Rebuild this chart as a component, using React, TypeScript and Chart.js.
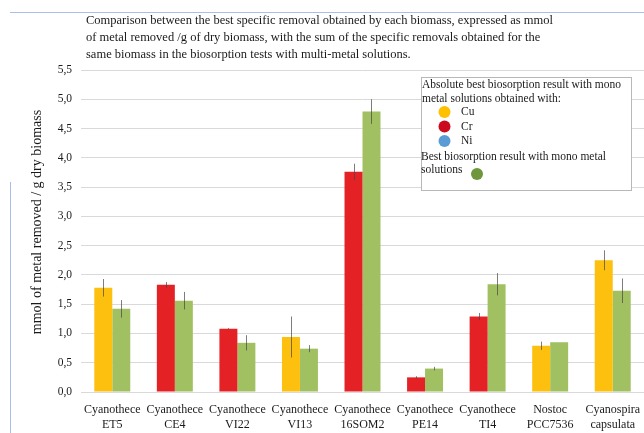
import React, { useEffect, useRef } from "react";
import { Chart, registerables } from "chart.js";

Chart.register(...registerables);

// ---- data ----
const categories: string[][] = [
  ["Cyanothece", "ET5"],
  ["Cyanothece", "CE4"],
  ["Cyanothece", "VI22"],
  ["Cyanothece", "VI13"],
  ["Cyanothece", "16SOM2"],
  ["Cyanothece", "PE14"],
  ["Cyanothece", "TI4"],
  ["Nostoc", "PCC7536"],
  ["Cyanospira", "capsulata"],
];
const bestMetal = ["Cu", "Cr", "Cr", "Cu", "Cr", "Cr", "Cr", "Cu", "Cu"];
const monoBest = [1.78, 1.83, 1.08, 0.94, 3.76, 0.25, 1.29, 0.79, 2.25];
const monoErr = [0.15, 0.05, 0.01, 0.35, 0.14, 0.02, 0.06, 0.07, 0.17];
const multiSum = [1.42, 1.56, 0.84, 0.74, 4.79, 0.4, 1.84, 0.85, 1.73];
const multiErr = [0.15, 0.15, 0.13, 0.06, 0.21, 0.03, 0.19, 0.0, 0.21];

const titleLines = [
  "Comparison between the best specific removal obtained by each biomass, expressed as mmol",
  "of metal removed /g of dry biomass, with the sum of the specific removals obtained for the",
  "same biomass in the biosorption tests with multi-metal solutions.",
];
const legendHeader = [
  "Absolute best biosorption result with mono",
  "metal solutions obtained with:",
];
const legendMetals = ["Cu", "Cr", "Ni"];
const legendMulti = ["Best biosorption result with mono metal", "solutions"];
const yAxisTitle = "mmol of metal removed / g dry biomass";

const metalBarColor: Record<string, string> = {
  Cu: "#FDC00F",
  Cr: "#E42226",
  Ni: "#5B9BD5",
};
const metalDotColor: Record<string, string> = {
  Cu: "#FFC000",
  Cr: "#CC0A1E",
  Ni: "#5B9BD5",
};
const greenBar = "#A0C061";
const greenDot = "#70963C";
const SERIF = "'Liberation Serif', 'DejaVu Serif', serif";

const errorBarPlugin = {
  id: "errorBars",
  afterDatasetsDraw(chart: any) {
    const { ctx } = chart;
    const y = chart.scales.y;
    const errs = [monoErr, multiErr];
    const vals = [monoBest, multiSum];
    ctx.save();
    ctx.strokeStyle = "rgba(70,70,70,0.7)";
    ctx.lineWidth = 1;
    [0, 1].forEach((di) => {
      const meta = chart.getDatasetMeta(di);
      meta.data.forEach((bar: any, j: number) => {
        const e = errs[di][j];
        if (!e) return;
        const v = vals[di][j];
        const x = Math.round(bar.x) + 0.5;
        ctx.beginPath();
        ctx.moveTo(x, y.getPixelForValue(v + e));
        ctx.lineTo(x, y.getPixelForValue(v - e));
        ctx.stroke();
      });
    });
    ctx.restore();
  },
};

const decorPlugin = {
  id: "decor",
  afterDraw(chart: any) {
    const { ctx } = chart;
    ctx.save();
    // page rules
    ctx.strokeStyle = "#A9BFE8";
    ctx.lineWidth = 1;
    ctx.beginPath();
    ctx.moveTo(10, 12.5);
    ctx.lineTo(644, 12.5);
    ctx.moveTo(10.5, 182);
    ctx.lineTo(10.5, 433);
    ctx.stroke();

    // title
    ctx.fillStyle = "#1a1a1a";
    ctx.font = `12.5px ${SERIF}`;
    ctx.textBaseline = "middle";
    ctx.textAlign = "left";
    titleLines.forEach((t, i) => ctx.fillText(t, 86, 21 + i * 17));

    // y axis title
    ctx.save();
    ctx.translate(37, 222);
    ctx.rotate(-Math.PI / 2);
    ctx.textAlign = "center";
    ctx.font = `14px ${SERIF}`;
    ctx.fillText(yAxisTitle, 0, 0);
    ctx.restore();

    // legend box
    const bx = 421.5, by = 77.5, bw = 210, bh = 113;
    ctx.fillStyle = "#ffffff";
    ctx.fillRect(bx, by, bw, bh);
    ctx.strokeStyle = "#b8b8b8";
    ctx.strokeRect(bx, by, bw, bh);

    ctx.fillStyle = "#1a1a1a";
    ctx.font = `11.5px ${SERIF}`;
    legendHeader.forEach((t, i) => ctx.fillText(t, 422, 85 + i * 14));
    legendMetals.forEach((m, i) => {
      const cy = 112 + i * 14.5;
      ctx.fillStyle = metalDotColor[m];
      ctx.beginPath();
      ctx.arc(444.5, cy, 6, 0, Math.PI * 2);
      ctx.fill();
      ctx.fillStyle = "#1a1a1a";
      ctx.fillText(m, 461, cy);
    });
    legendMulti.forEach((t, i) => ctx.fillText(t, 421, 157 + i * 12.5));
    ctx.fillStyle = greenDot;
    ctx.beginPath();
    ctx.arc(477, 174, 6, 0, Math.PI * 2);
    ctx.fill();
    ctx.restore();
  },
};

export default function App() {
  const ref = useRef<HTMLCanvasElement | null>(null);
  useEffect(() => {
    if (!ref.current) return;
    const chart = new Chart(ref.current, {
      type: "bar",
      data: {
        labels: categories,
        datasets: [
          {
            label: "Best mono-metal result",
            data: monoBest,
            backgroundColor: bestMetal.map((m) => metalBarColor[m]),
            borderWidth: 0,
            barPercentage: 1,
            categoryPercentage: 0.575,
          },
          {
            label: "Sum multi-metal",
            data: multiSum,
            backgroundColor: greenBar,
            borderWidth: 0,
            barPercentage: 1,
            categoryPercentage: 0.575,
          },
        ],
      },
      options: {
        responsive: false,
        animation: false,
        layout: { padding: { top: 70, left: 0, right: 0, bottom: 0 } },
        plugins: {
          legend: { display: false },
          title: { display: false },
          tooltip: { enabled: false },
        },
        scales: {
          x: {
            afterFit: (s: any) => {
              s.height = 41;
              s.paddingLeft = 0;
              s.paddingRight = 0;
            },
            grid: { display: false, drawTicks: false },
            border: { display: false },
            ticks: {
              color: "#1a1a1a",
              font: { family: SERIF, size: 12, lineHeight: 1.25 },
              padding: 10,
              maxRotation: 0,
              autoSkip: false,
            },
          },
          y: {
            min: 0,
            max: 5.5,
            afterFit: (s: any) => {
              s.width = 81;
            },
            grid: { color: "#D9D9D9", lineWidth: 1, drawTicks: false },
            border: { display: false },
            ticks: {
              stepSize: 0.5,
              padding: 9,
              color: "#1a1a1a",
              font: { family: SERIF, size: 11.5 },
              callback: (v: any) => Number(v).toFixed(1).replace(".", ","),
            },
          },
        },
      },
      plugins: [errorBarPlugin, decorPlugin],
    });
    return () => chart.destroy();
  }, []);
  return (
    <div style={{ position: "fixed", left: 0, top: 0, width: 644, height: 433, background: "#fff" }}>
      <canvas ref={ref} width={644} height={433} style={{ display: "block" }} />
    </div>
  );
}
